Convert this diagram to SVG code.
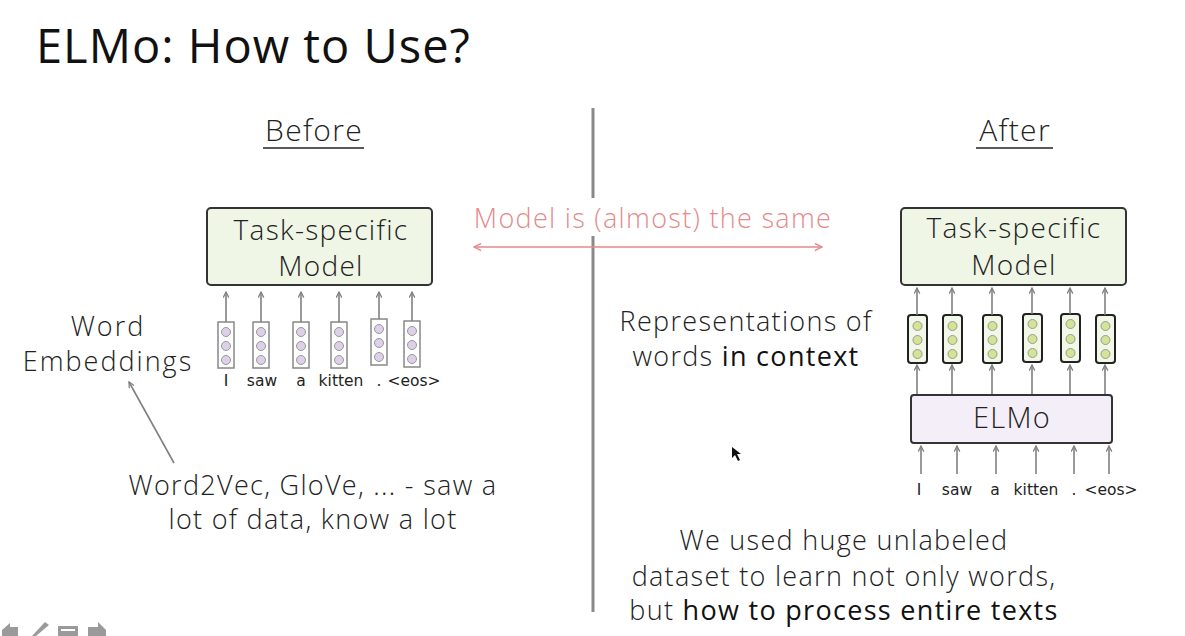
<svg xmlns="http://www.w3.org/2000/svg" width="1185" height="636" viewBox="0 0 1185 636">
  <style>
    .t { font-family: "Open Sans", "Noto Sans", sans-serif; font-weight: 300; fill: #222; letter-spacing: 1.3px; }
    .b { font-weight: 400; fill: #111; }
    .w { font-family: "DejaVu Sans", sans-serif; font-size: 15.5px; fill: #222; }
    .task { fill: #eff6e6; stroke: #333; stroke-width: 2; }
    .elmo { fill: #f4eef8; stroke: #333; stroke-width: 2; }
    .vecL { fill: #fff; stroke: #888; stroke-width: 1.5; }
    .vecR { fill: #f2f8e8; stroke: #222; stroke-width: 2; }
    .cL { fill: #ddd0e8; stroke: #999; stroke-width: 1; }
    .cR { fill: #d4e494; stroke: #999; stroke-width: 1; }
    .ar { stroke: #808080; stroke-width: 1.6; fill: none; marker-end: url(#ah); }
  </style>
  <defs>
    <marker id="ah" viewBox="0 0 10 10" refX="9" refY="5" markerWidth="7" markerHeight="7" orient="auto" markerUnits="userSpaceOnUse">
      <path d="M1,1 L9,5 L1,9" fill="none" stroke="#808080" stroke-width="1.8"/>
    </marker>
    <marker id="ap" viewBox="0 0 10 10" refX="9" refY="5" markerWidth="9" markerHeight="9" orient="auto-start-reverse" markerUnits="userSpaceOnUse">
      <path d="M1,1 L9,5 L1,9" fill="none" stroke="#e58a8a" stroke-width="1.6"/>
    </marker>
  </defs>

  <rect width="1185" height="636" fill="#fff"/>

  <!-- title -->
  <text class="t" x="36" y="63" font-size="47" style="font-weight:400;fill:#111;letter-spacing:1px">ELMo: How to Use?</text>

  <!-- divider -->
  <line x1="593" y1="108" x2="593" y2="612" stroke="#8a8a8a" stroke-width="3"/>

  <!-- column headings -->
  <g id="heading-before">
    <text class="t" x="314" y="141" font-size="30" text-anchor="middle">Before</text>
    <line x1="263" y1="148" x2="364" y2="148" stroke="#222" stroke-width="1.5"/>
  </g>
  <g id="heading-after">
    <text class="t" x="1015" y="141" font-size="30" text-anchor="middle">After</text>
    <line x1="976" y1="148" x2="1053" y2="148" stroke="#222" stroke-width="1.5"/>
  </g>

  <!-- shared-model label -->
  <g id="same-model">
    <rect x="468" y="198" width="370" height="38" fill="#fff"/>
    <text class="t" x="653" y="228" font-size="27" text-anchor="middle" style="fill:#e58a8a">Model is (almost) the same</text>
    <line x1="474" y1="247" x2="822" y2="247" stroke="#e58a8a" stroke-width="1.6" marker-start="url(#ap)" marker-end="url(#ap)"/>
  </g>

  <!-- left: task model -->
  <g id="task-left">
    <rect class="task" x="207" y="208" width="225" height="77" rx="4"/>
    <text class="t" x="321" y="240" font-size="28" text-anchor="middle">Task-specific</text>
    <text class="t" x="321" y="276" font-size="28" text-anchor="middle">Model</text>
  </g>

  <!-- left: word embedding vectors -->
  <g id="emb-left">
    <rect class="vecL" x="218" y="322" width="16" height="46"/>
    <circle class="cL" cx="226" cy="332" r="4.5"/><circle class="cL" cx="226" cy="346" r="4.5"/><circle class="cL" cx="226" cy="360" r="4.5"/>
    <rect class="vecL" x="253" y="322" width="16" height="46"/>
    <circle class="cL" cx="261" cy="332" r="4.5"/><circle class="cL" cx="261" cy="346" r="4.5"/><circle class="cL" cx="261" cy="360" r="4.5"/>
    <rect class="vecL" x="293" y="322" width="16" height="46"/>
    <circle class="cL" cx="301" cy="332" r="4.5"/><circle class="cL" cx="301" cy="346" r="4.5"/><circle class="cL" cx="301" cy="360" r="4.5"/>
    <rect class="vecL" x="331" y="322" width="16" height="46"/>
    <circle class="cL" cx="339" cy="332" r="4.5"/><circle class="cL" cx="339" cy="346" r="4.5"/><circle class="cL" cx="339" cy="360" r="4.5"/>
    <rect class="vecL" x="371" y="319" width="16" height="46"/>
    <circle class="cL" cx="379" cy="329" r="4.5"/><circle class="cL" cx="379" cy="343" r="4.5"/><circle class="cL" cx="379" cy="357" r="4.5"/>
    <rect class="vecL" x="404" y="321" width="16" height="46"/>
    <circle class="cL" cx="412" cy="331" r="4.5"/><circle class="cL" cx="412" cy="345" r="4.5"/><circle class="cL" cx="412" cy="359" r="4.5"/>
  </g>
  <g id="words-left" class="w" text-anchor="middle">
    <text x="226" y="386">I</text>
    <text x="262" y="386">saw</text>
    <text x="301" y="386">a</text>
    <text x="341" y="386">kitten</text>
    <text x="379" y="386">.</text>
    <text x="414" y="386">&lt;eos&gt;</text>
  </g>

  <!-- left labels -->
  <g id="label-embeddings">
    <text class="t" x="108" y="336" font-size="27" text-anchor="middle" style="letter-spacing:2px">Word</text>
    <text class="t" x="108" y="371" font-size="27" text-anchor="middle" style="letter-spacing:2px">Embeddings</text>
  </g>
  <g id="label-w2v">
    <text class="t" x="313" y="495" font-size="27" text-anchor="middle">Word2Vec, GloVe, ... - saw a</text>
    <text class="t" x="313" y="529" font-size="27" text-anchor="middle">lot of data, know a lot</text>
  </g>

  <!-- right: task model -->
  <g id="task-right">
    <rect class="task" x="901" y="208" width="225" height="77" rx="4"/>
    <text class="t" x="1014" y="238" font-size="28" text-anchor="middle">Task-specific</text>
    <text class="t" x="1014" y="275" font-size="28" text-anchor="middle">Model</text>
  </g>

  <!-- right: contextual vectors -->
  <g id="ctx-right">
    <rect class="vecR" x="908" y="315" width="19" height="48" rx="3"/>
    <circle class="cR" cx="917.5" cy="326" r="4.5"/><circle class="cR" cx="917.5" cy="340" r="4.5"/><circle class="cR" cx="917.5" cy="354" r="4.5"/>
    <rect class="vecR" x="943" y="315" width="19" height="48" rx="3"/>
    <circle class="cR" cx="952.5" cy="326" r="4.5"/><circle class="cR" cx="952.5" cy="340" r="4.5"/><circle class="cR" cx="952.5" cy="354" r="4.5"/>
    <rect class="vecR" x="983" y="315" width="19" height="48" rx="3"/>
    <circle class="cR" cx="992.5" cy="326" r="4.5"/><circle class="cR" cx="992.5" cy="340" r="4.5"/><circle class="cR" cx="992.5" cy="354" r="4.5"/>
    <rect class="vecR" x="1023" y="314" width="19" height="48" rx="3"/>
    <circle class="cR" cx="1032.5" cy="324" r="4.5"/><circle class="cR" cx="1032.5" cy="339" r="4.5"/><circle class="cR" cx="1032.5" cy="353" r="4.5"/>
    <rect class="vecR" x="1061" y="314" width="19" height="48" rx="3"/>
    <circle class="cR" cx="1070.5" cy="324" r="4.5"/><circle class="cR" cx="1070.5" cy="339" r="4.5"/><circle class="cR" cx="1070.5" cy="353" r="4.5"/>
    <rect class="vecR" x="1096" y="315" width="19" height="48" rx="3"/>
    <circle class="cR" cx="1105.5" cy="326" r="4.5"/><circle class="cR" cx="1105.5" cy="340" r="4.5"/><circle class="cR" cx="1105.5" cy="354" r="4.5"/>
  </g>

  <!-- right: ELMo -->
  <g id="elmo">
    <rect class="elmo" x="911" y="395" width="201" height="48" rx="3"/>
    <text class="t" x="1012" y="428" font-size="29" text-anchor="middle">ELMo</text>
  </g>
  <g id="words-right" class="w" text-anchor="middle">
    <text x="919" y="495">I</text>
    <text x="957" y="495">saw</text>
    <text x="995" y="495">a</text>
    <text x="1036" y="495">kitten</text>
    <text x="1074" y="495">.</text>
    <text x="1111" y="495">&lt;eos&gt;</text>
  </g>

  <!-- right labels -->
  <g id="label-context">
    <text class="t" x="746" y="331" font-size="27" text-anchor="middle">Representations of</text>
    <text class="t" x="746" y="366" font-size="27" text-anchor="middle">words <tspan class="b">in context</tspan></text>
  </g>
  <g id="label-bottom">
    <text class="t" x="844" y="550" font-size="27" text-anchor="middle">We used huge unlabeled</text>
    <text class="t" x="844" y="586" font-size="27" text-anchor="middle">dataset to learn not only words,</text>
    <text class="t" x="844" y="620" font-size="27" text-anchor="middle">but <tspan class="b">how to process entire texts</tspan></text>
  </g>

  <!-- connectors -->
  <g id="connectors">
    <!-- left: embeddings into task model -->
    <line class="ar" x1="226" y1="322" x2="226" y2="292"/>
    <line class="ar" x1="261" y1="322" x2="261" y2="292"/>
    <line class="ar" x1="301" y1="322" x2="301" y2="292"/>
    <line class="ar" x1="339" y1="322" x2="339" y2="292"/>
    <line class="ar" x1="379" y1="319" x2="379" y2="292"/>
    <line class="ar" x1="412" y1="321" x2="412" y2="292"/>
    <!-- note arrow -->
    <line class="ar" x1="174" y1="463" x2="129" y2="382"/>
    <!-- right: context vectors into task model -->
    <line class="ar" x1="917" y1="315" x2="917" y2="288"/>
    <line class="ar" x1="952" y1="315" x2="952" y2="288"/>
    <line class="ar" x1="992" y1="315" x2="992" y2="288"/>
    <line class="ar" x1="1032" y1="314" x2="1032" y2="288"/>
    <line class="ar" x1="1070" y1="314" x2="1070" y2="288"/>
    <line class="ar" x1="1105" y1="315" x2="1105" y2="288"/>
    <!-- right: ELMo into context vectors -->
    <line class="ar" x1="917" y1="394" x2="917" y2="365"/>
    <line class="ar" x1="952" y1="394" x2="952" y2="365"/>
    <line class="ar" x1="992" y1="394" x2="992" y2="365"/>
    <line class="ar" x1="1032" y1="394" x2="1032" y2="365"/>
    <line class="ar" x1="1070" y1="394" x2="1070" y2="365"/>
    <line class="ar" x1="1105" y1="394" x2="1105" y2="365"/>
    <!-- right: words into ELMo -->
    <line class="ar" x1="921" y1="474" x2="921" y2="446"/>
    <line class="ar" x1="957" y1="474" x2="957" y2="446"/>
    <line class="ar" x1="996" y1="474" x2="996" y2="446"/>
    <line class="ar" x1="1036" y1="474" x2="1036" y2="446"/>
    <line class="ar" x1="1074" y1="474" x2="1074" y2="446"/>
    <line class="ar" x1="1109" y1="474" x2="1109" y2="446"/>
  </g>

  <!-- mouse pointer -->
  <path d="M732,447 L732,458 L735,455 L738,461 L740,460 L737,454 L741,454 Z" fill="#111"/>

  <!-- viewer toolbar -->
  <g id="toolbar" fill="#9a9a9a">
    <path d="M2,630 L10,623 L10,627 L18,627 L18,636 L2,636 Z"/>
    <path d="M32,636 L45,622 L49,625 L36,636 Z"/>
    <rect x="58" y="626" width="20" height="10"/>
    <rect x="61" y="629" width="14" height="2" fill="#fff"/>
    <path d="M88,627 L98,627 L98,622 L106,630 L106,636 L88,636 Z"/>
  </g>
</svg>
